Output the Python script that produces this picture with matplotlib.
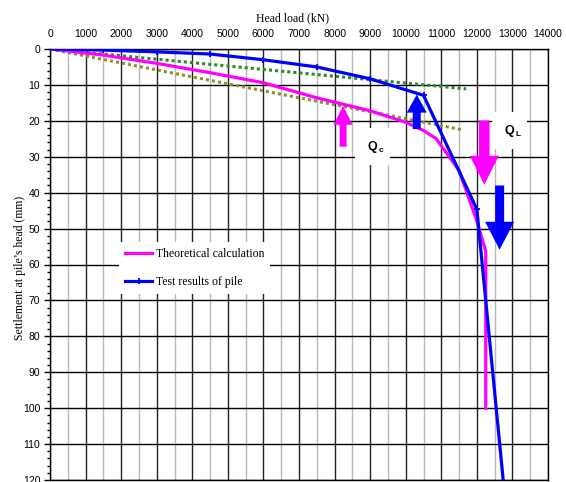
import matplotlib
matplotlib.use("Agg")
import matplotlib.pyplot as plt
from matplotlib.patches import FancyArrowPatch
from matplotlib.ticker import MultipleLocator

# ---- data -------------------------------------------------------------
theory_load = [0, 1500, 3000, 4500, 6000, 7500, 9000, 10000, 10500, 10850,
               11500, 12000, 12250, 12250]
theory_settle = [0, 1.7, 4.0, 6.6, 9.4, 13.6, 17.2, 20.4, 22.7, 24.9,
                 33.8, 47.9, 56.3, 100]

test_load = [0, 1500, 3000, 4500, 6000, 7500, 9000, 10500, 12000, 12750]
test_settle = [0, 0.3, 0.8, 1.4, 3.0, 5.0, 8.3, 12.9, 44.6, 121]

# initial tangent lines
tangent1_load = [0, 11700]
tangent1_settle = [0, 11.1]
tangent2_load = [0, 11600]
tangent2_settle = [0, 22.5]

x_ticks = list(range(0, 14001, 1000))
y_ticks = list(range(0, 121, 10))

legend_labels = ["Theoretical calculation", "Test results of pile"]

# ---- figure -----------------------------------------------------------
W, H, DPI = 566, 482, 100
fig = plt.figure(figsize=(W / DPI, H / DPI), dpi=DPI)
ax = fig.add_axes([50 / W, 1 - 480 / H, 498 / W, 431 / H])

sans = "Liberation Sans"
serif = "Liberation Serif"

ax.set_xlim(0, 14000)
ax.set_ylim(120, 0)

ax.xaxis.tick_top()
ax.set_xticks(x_ticks)
ax.set_xticklabels([str(v) for v in x_ticks], family=sans, fontsize=7.5)
ax.xaxis.set_minor_locator(MultipleLocator(500))
ax.set_yticks(y_ticks)
ax.set_yticklabels([str(v) for v in y_ticks], family=sans, fontsize=7.5)
ax.yaxis.set_minor_locator(MultipleLocator(2))

ax.tick_params(axis="x", which="both", length=0, pad=7)
ax.tick_params(axis="y", which="major", length=4, width=1, pad=3, direction="out")
ax.tick_params(axis="y", which="minor", length=2.5, width=1, direction="out")

# grid: dark lines every 1000 kN, light ones in between, black every 10 mm
ax.xaxis.grid(True, which="major", color="#222222", lw=1.0)
ax.xaxis.grid(True, which="minor", color="#b8b8b8", lw=1.0)
ax.yaxis.grid(True, which="major", color="#000000", lw=1.0)
ax.yaxis.grid(False, which="minor")
ax.set_axisbelow(True)

for s in ax.spines.values():
    s.set_color("black")
    s.set_linewidth(1.0)

# tangents
ax.plot(tangent1_load, tangent1_settle, color="#2a8a2a", lw=2.2,
        ls=(0, (1, 1)), zorder=3)
ax.plot(tangent2_load, tangent2_settle, color="#8f8f2a", lw=2.2,
        ls=(0, (1, 1)), zorder=3)

# curves
l1, = ax.plot(theory_load, theory_settle, color="#ff00ff", lw=2.3, zorder=4,
              solid_joinstyle="miter")
l2, = ax.plot(test_load, test_settle, color="#0000ff", lw=2.3, zorder=5,
              marker="+", ms=5, mew=1.3, solid_joinstyle="miter")


def arrow(x, y_tail, y_tip, color, tail_px, head_w_px, head_l_px):
    k = 72 / DPI
    style = (f"simple,head_length={head_l_px * k},head_width={head_w_px * k},"
             f"tail_width={tail_px * k}")
    p = FancyArrowPatch((x, y_tail), (x, y_tip), arrowstyle=style,
                        mutation_scale=1, color=color, lw=0,
                        shrinkA=0, shrinkB=0, zorder=6)
    ax.add_patch(p)


arrow(8240, 27.2, 15.8, "#ff00ff", 7, 19, 19)
arrow(10310, 22.3, 12.7, "#0000ff", 8, 20, 18)
arrow(12210, 19.9, 37.8, "#ff00ff", 10.5, 29, 29)
arrow(12640, 38.0, 55.9, "#0000ff", 9, 29, 28)


def q_label(x, y, sub):
    ax.text(x, y, "Q", family=sans, fontweight="bold", fontsize=9,
            ha="center", va="center", zorder=7,
            bbox=dict(boxstyle="square,pad=1.0", fc="white", ec="none"))
    ax.annotate(sub, xy=(x, y), xytext=(6, -3), textcoords="offset points",
                family=sans, fontweight="bold", fontsize=6, ha="center",
                va="center", zorder=8)


q_label(9060, 27.2, "c")
q_label(12910, 22.7, "L")

leg = ax.legend([l1, l2], legend_labels, loc="upper left",
                bbox_to_anchor=(0.139, 0.552), prop=dict(family=serif, size=8.5),
                frameon=True, fancybox=False, framealpha=1, facecolor="white",
                edgecolor="none", handlelength=2.3, handletextpad=0.3,
                labelspacing=1.35, borderpad=0.5, borderaxespad=0, numpoints=1)
leg.set_zorder(9)

fig.text(292 / W, 1 - 18 / H, "Head load (kN)", family=serif, fontsize=8.5,
         ha="center", va="center")
fig.text(20 / W, 1 - 268 / H, "Settlement at pile\u2019s head (mm)", family=serif,
         fontsize=8.5, ha="center", va="center", rotation=90)

fig.savefig("out.png", dpi=DPI)
